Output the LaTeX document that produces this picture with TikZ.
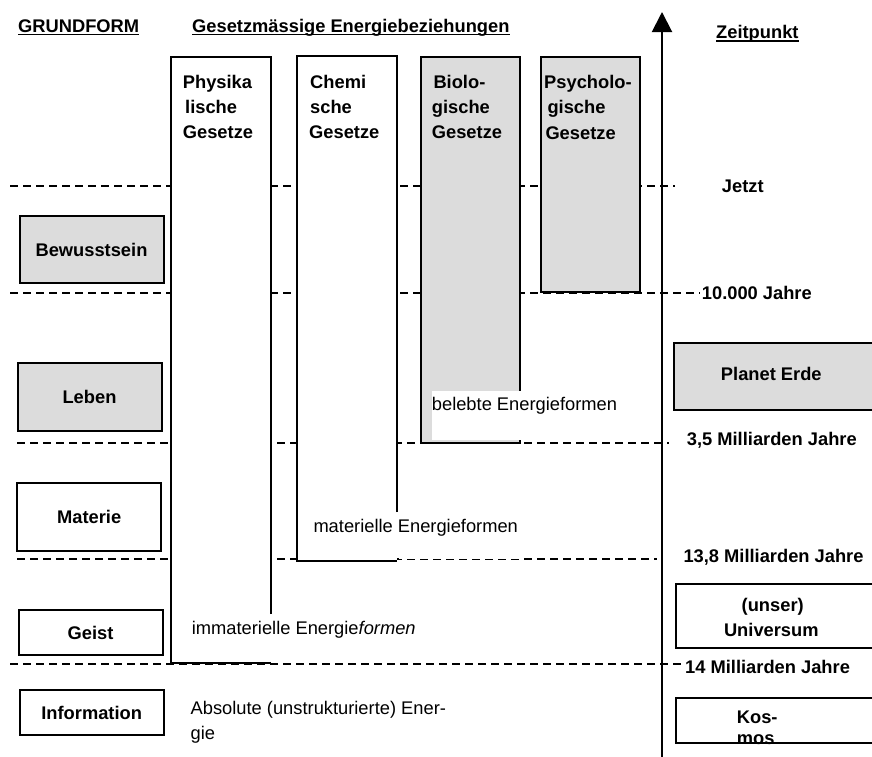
\documentclass[tikz,border=0pt]{standalone}
\usepackage{fontspec}
\setmainfont{Liberation Sans}
\usetikzlibrary{arrows.meta}
\definecolor{boxgray}{RGB}{220,220,220}
\begin{document}
\begin{tikzpicture}[x=1pt,y=-1pt,
  bt/.style={font=\bfseries\fontsize{18.3}{22}\selectfont, inner sep=0pt, anchor=base west},
  bc/.style={font=\bfseries\fontsize{18.3}{22}\selectfont, inner sep=0pt, anchor=base},
  rt/.style={font=\fontsize{18.3}{22}\selectfont, inner sep=0pt, anchor=base west},
  dline/.style={line width=2pt, dash pattern=on 8pt off 5pt},
  frame/.style={line width=2pt},
  gbox/.style={frame, draw, fill=boxgray},
  wbox/.style={frame, draw, fill=white},
  lbox/.style={frame, draw, minimum width=144pt, inner sep=0pt, font=\bfseries\fontsize{18.3}{22}\selectfont},
  uline/.style={line width=1.5pt},
]
\useasboundingbox (0,0) rectangle (872,756);
\clip (0,0) rectangle (872,756);

% headers
\node[bt] (grund) at (18,32) {GRUNDFORM};
\node[bt] (gesetz) at (192,32) {Gesetzmässige Energiebeziehungen};
\node[bt] (zeit) at (716,38) {Zeitpunkt};
\draw[uline] ([yshift=-2.5pt]grund.base west) -- ([yshift=-2.5pt]grund.base east);
\draw[uline] ([yshift=-2.5pt]gesetz.base west) -- ([yshift=-2.5pt]gesetz.base east);
\draw[uline] ([yshift=-3pt]zeit.base west) -- ([yshift=-3pt]zeit.base east);

% dashed time lines
\coordinate (d1a) at (10,186);  \coordinate (d1b) at (675,186);
\coordinate (d2a) at (10,293); \coordinate (d2b) at (700,293);
\coordinate (d3a) at (17,443); \coordinate (d3b) at (669,443);
\coordinate (d4a) at (17,559); \coordinate (d4b) at (657,559);
\coordinate (d5a) at (10,664);  \coordinate (d5b) at (683,664);
\draw[dline] (d1a) -- (d1b);
\draw[dline] (d2a) -- (d2b);
\draw[dline] (d3a) -- (d3b);
\draw[dline] (d4a) -- (d4b);
\draw[dline] (d5a) -- (d5b);

% column boxes
\fill[white] (171,57) rectangle (271,663);
\draw[frame] (271,614) -- (271,57) -- (171,57) -- (171,663) -- (271,663);
\fill[white] (297,56) rectangle (397,561);
\draw[frame] (397,512) -- (397,56) -- (297,56) -- (297,561) -- (397,561);
\fill[white] (398.5,530) rectangle (523,558.6);
\draw[gbox] (421,57) rectangle (520,443);
\fill[white] (431.5,391) rectangle (622,439.5);
\draw[gbox] (541,57) rectangle (640,292);

% column labels
\node[bt] (ph1) at (182.7,88.5) {Physika};
\node[bt] (ph2) at (185,113.5) {lische};
\node[bt] (ph3) at (182.7,138.5) {Gesetze};
\node[bt] (ch1) at (310,88.5) {Chemi};
\node[bt] (ch2) at (310,113.5) {sche};
\node[bt] (ch3) at (309,138.5) {Gesetze};
\node[bt] (bi1) at (433.3,88) {Biolo-};
\node[bt] (bi2) at (431.7,113) {gische};
\node[bt] (bi3) at (431.7,138.5) {Gesetze};
\node[bt] (ps1) at (544,88.5) {Psycholo-};
\node[bt] (ps2) at (547.3,113.5) {gische};
\node[bt] (ps3) at (545.3,139) {Gesetze};

% energy-form labels
\node[rt] (beleb) at (431.7,410.7) {belebte Energieformen};
\node[rt] (mater) at (313.3,532.7) {materielle Energieformen};
\node[rt] (immat) at (191.7,634) {immaterielle Energie\textit{formen}};
\node[rt] (abs1) at (190.5,714) {Absolute (unstrukturierte) Ener-};
\node[rt] (abs2) at (190.5,739) {gie};

% left boxes (Grundform)
\node[lbox, fill=boxgray, minimum height=67pt] (bew) at (91.5,249.5) {Bewusstsein};
\node[lbox, fill=boxgray, minimum height=68pt] (leb) at (89.5,396.7) {Leben};
\node[lbox, fill=white, minimum height=67.7pt] (mat) at (89.2,517.2) {Materie};
\node[lbox, fill=white, minimum height=45pt] (gei) at (90.5,632.5) {Geist};
\node[lbox, fill=white, minimum height=45pt] (inf) at (91.7,712.5) {Information};

% time axis
\coordinate (axb) at (662,760);
\coordinate (axt) at (662,12);
\draw[line width=2pt, -{Triangle[width=20pt,length=20pt]}] (axb) -- (axt);

% right boxes
\draw[gbox] (673.5,343.3) rectangle (880,410);
\draw[wbox] (676,584) rectangle (880,648.3);
\draw[wbox] (676,698.3) rectangle (880,743.3);
\node[bc] (erde) at (771.3,380) {Planet Erde};
\node[bc] (uns) at (772.7,611.7) {(unser)};
\node[bc] (univ) at (771.3,636) {Universum};
\node[bt] (kos1) at (736.7,723.3) {Kos-};
\node[bt] (kos2) at (736.7,744) {mos};

% time labels
\node[bt] (jetzt) at (721.7,192.5) {Jetzt};
\node[bt] (t10k) at (701.7,299.3) {10.000 Jahre};
\node[bt] (t35) at (686.7,445.7) {3,5 Milliarden Jahre};
\node[bt] (t138) at (683.3,562) {13,8 Milliarden Jahre};
\node[bt] (t14) at (685,673.3) {14 Milliarden Jahre};
\end{tikzpicture}
\end{document}
